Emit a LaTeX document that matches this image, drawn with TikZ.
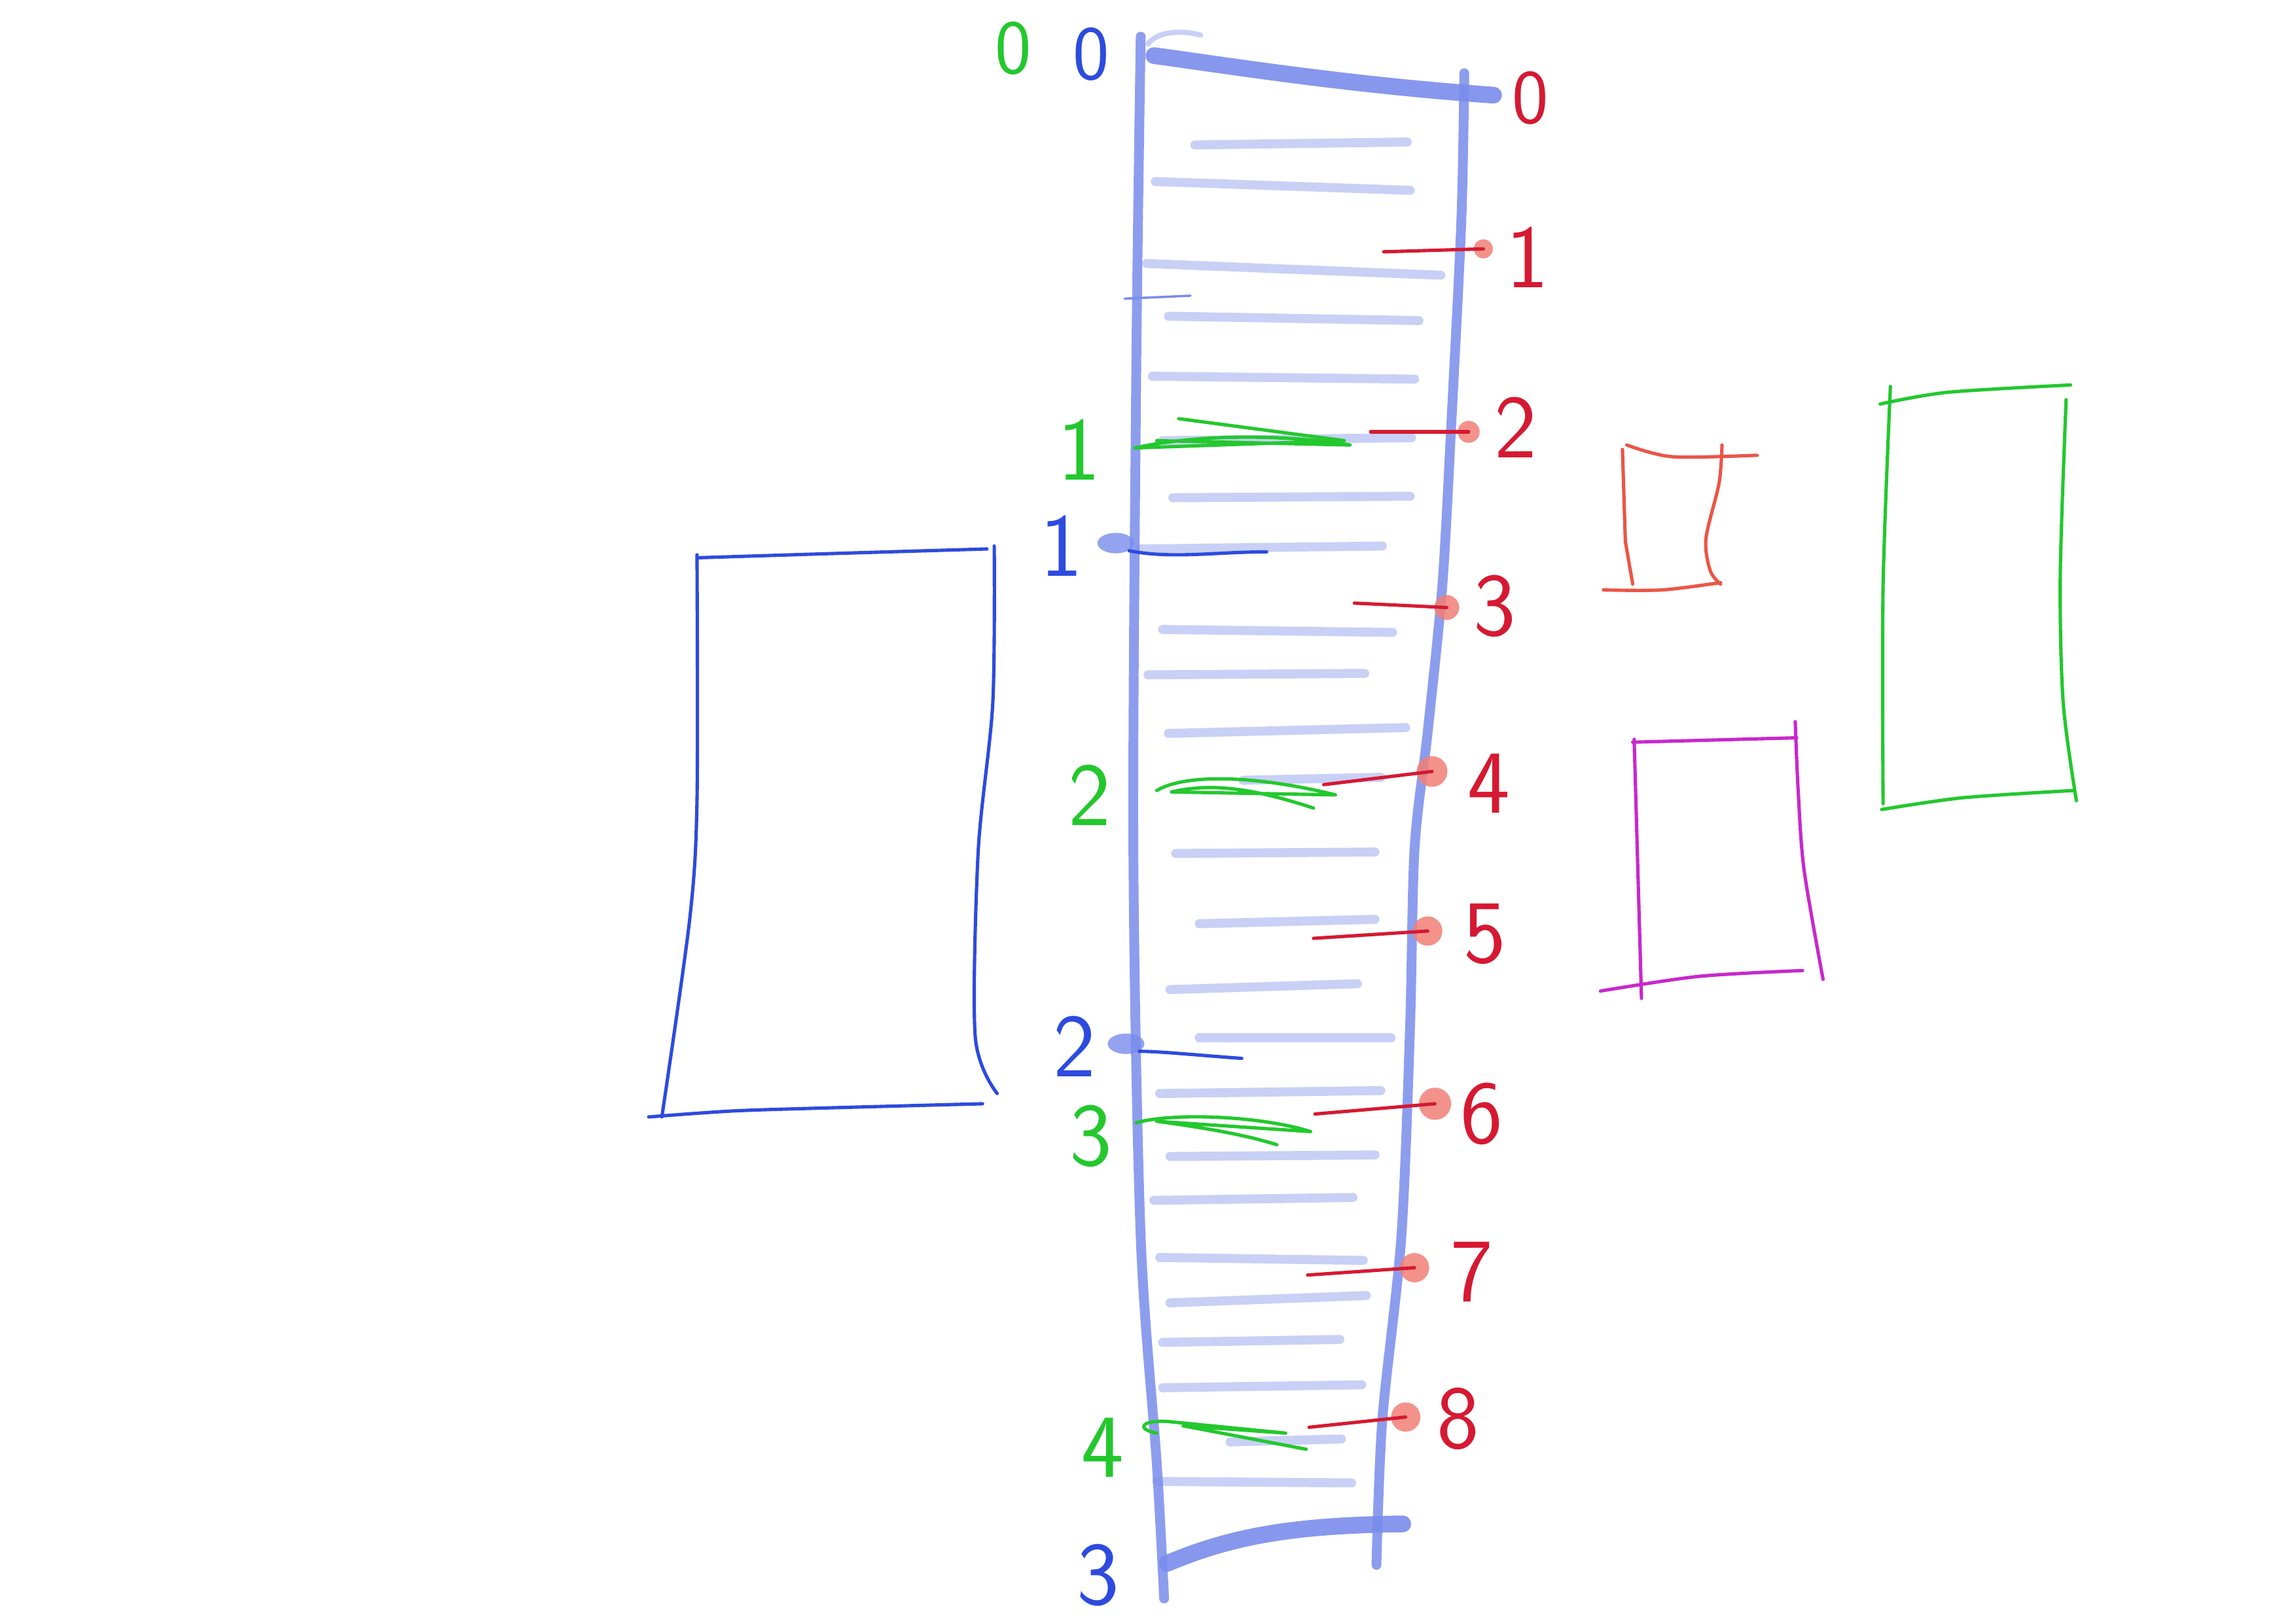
\documentclass[tikz,border=0pt]{standalone}
\usetikzlibrary{positioning, shapes.geometric}

\definecolor{railblue}{RGB}{122,140,236}
\definecolor{rungblue}{RGB}{200,208,246}
\definecolor{inkblue}{RGB}{45,75,222}
\definecolor{inkgreen}{RGB}{35,200,45}
\definecolor{inkred}{RGB}{214,25,50}
\definecolor{blobred}{RGB}{242,128,118}
\definecolor{inkmagenta}{RGB}{200,40,205}
\definecolor{rectred}{RGB}{235,85,70}

\begin{document}
\begin{tikzpicture}[x=0.02cm, y=-0.02cm,
    rail/.style={draw=railblue, line width=3.8pt, line cap=round, opacity=0.85},
    bar/.style={draw=railblue, line width=6.5pt, line cap=round, opacity=0.9},
    rung/.style={draw=rungblue, line width=3.5pt, line cap=round},
    ink/.style={line width=1.3pt, line cap=round, line join=round},
    digit/.style={font=\sffamily\fontsize{35}{40}\selectfont, inner sep=0pt},
    zero/.style={font=\sffamily\fontsize{30}{34}\selectfont, inner sep=0pt},
    blob/.style={circle, fill=blobred, inner sep=0pt, fill opacity=0.85},
    bblob/.style={ellipse, fill=railblue, inner sep=0pt, fill opacity=0.8, minimum width=0.5cm, minimum height=0.28cm}]

    % page
    \fill[white] (0,0) rectangle (1568,1109);
    \useasboundingbox (0,0) rectangle (1568,1109);

    % rungs of the ladder
    \foreach \ax/\ay/\bx/\by in {816/99/961/97, 789/124/963/130, 783/180/984/188, 798/216/969/219,
        787/257/966/259, 794/301/964/299, 801/340/963/339, 778/375/944/373, 794/430/951/432,
        784/461/932/460, 798/501/960/497, 849/533/943/531, 803/583/939/582, 819/631/939/628,
        799/676/927/672, 819/709/950/709, 792/747/943/745, 799/790/939/789, 788/820/924/818,
        792/859/931/861, 799/890/933/885, 794/917/915/915, 794/948/930/946, 840/985/916/983,
        790/1012/923/1013}
        \draw[rung] (\ax,\ay) -- (\bx,\by);
    \draw[rung, line width=2pt] (784,30) .. controls (790,22) and (805,20) .. (820,24);

    % rails and end bars
    \draw[rail] plot[smooth] coordinates {(779,25) (776,250) (774,580) (779,845) (790,1000) (795,1092)};
    \draw[rail] plot[smooth] coordinates {(1000,50) (998,150) (991,292) (985,400) (975,500) (966,580) (963,700) (957,845) (944,970) (940,1069)};
    \draw[bar] (788,38) .. controls (840,45) and (920,58) .. (1020,65);
    \draw[bar] (797,1068) .. controls (840,1050) and (880,1042) .. (958,1041);
    \draw[ink, railblue, line width=0.9pt] (768,204) -- (813,202);

    % red marks on the right
    \node[zero, text=inkred] (r0) at (1045,67) {0};
    \foreach \n/\lx/\ly/\dx/\dy/\ds/\tx/\ty in {
        1/945/172/1013/170/0.26/1043/176,
        2/936/295/1003/295/0.30/1035/292,
        3/925/412/988/415/0.34/1021/414,
        4/904/536/978/527/0.42/1017/535,
        5/897/641/975/636/0.40/1014/638,
        6/898/761/980/754/0.44/1012/761,
        7/893/871/966/866/0.40/1005/869,
        8/894/975/960/968/0.40/996/969}
    {
        \coordinate (l\n) at (\lx,\ly);
        \node[blob, minimum size=\ds cm] (d\n) at (\dx,\dy) {};
        \draw[ink, inkred] (l\n) -- (d\n.center);
        \node[digit, text=inkred] (r\n) at (\tx,\ty) {\n};
    }

    % green marks on the left
    \node[zero, text=inkgreen] (g0) at (692,33) {0};
    \node[digit, text=inkgreen] (g1) at (737,307) {1};
    \node[digit, text=inkgreen] (g2) at (744,543) {2};
    \node[digit, text=inkgreen] (g3) at (745,776) {3};
    \node[digit, text=inkgreen] (g4) at (753,989) {4};
    \draw[ink, inkgreen] (805,286) -- (918,301) -- (775,306) .. controls (820,296) and (880,297) .. (922,304) -- (790,301);
    \draw[ink, inkgreen] (790,540) .. controls (810,528) and (860,530) .. (912,543) -- (800,541) .. controls (830,534) and (860,540) .. (897,552);
    \draw[ink, inkgreen] (776,767) .. controls (800,760) and (860,762) .. (895,773) -- (790,766) .. controls (820,770) and (850,775) .. (872,782);
    \draw[ink, inkgreen] (790,979) .. controls (775,976) and (780,970) .. (797,971) -- (878,979) -- (808,974) -- (892,990);

    % blue marks on the left
    \node[zero, text=inkblue] (b0) at (745,37) {0};
    \node[digit, text=inkblue] (b1) at (725,373) {1};
    \node[digit, text=inkblue] (b2) at (734,715) {2};
    \node[digit, text=inkblue] (b3) at (750,1076) {3};
    \node[bblob] (p1) at (762,371) {};
    \node[bblob] (p2) at (769,713) {};
    \coordinate (q1) at (865,377);
    \coordinate (q2) at (848,723);
    \draw[ink, inkblue] (p1.south east) .. controls (800,382) and (830,377) .. (q1);
    \draw[ink, inkblue] (p2.south east) .. controls (790,718) and (820,721) .. (q2);

    % blue box
    \draw[ink, inkblue] plot[smooth] coordinates {(476,379) (476,547) (471,628) (452,763)};
    \draw[ink, inkblue] plot[smooth] coordinates {(477,381) (573,378) (674,375)};
    \draw[ink, inkblue] plot[smooth] coordinates {(679,373) (678,480) (668,582) (666,708) (681,747)};
    \draw[ink, inkblue] plot[smooth] coordinates {(443,763) (499,759) (559,757) (671,754)};

    % red box
    \draw[ink, rectred] plot[smooth] coordinates {(1111,304) (1142,312) (1200,311)};
    \draw[ink, rectred] (1108,307) -- (1110,370) -- (1115,399);
    \draw[ink, rectred] plot[smooth] coordinates {(1176,304) (1174,330) (1165,368) (1168,390) (1175,399)};
    \draw[ink, rectred] plot[smooth] coordinates {(1095,403) (1135,403) (1175,398)};

    % magenta box
    \draw[ink, inkmagenta] (1115,507) -- (1227,504);
    \draw[ink, inkmagenta] (1116,505) -- (1121,682);
    \draw[ink, inkmagenta] plot[smooth] coordinates {(1226,493) (1228,540) (1232,594) (1245,669)};
    \draw[ink, inkmagenta] plot[smooth] coordinates {(1093,677) (1160,667) (1231,663)};

    % green box
    \draw[ink, inkgreen] plot[smooth] coordinates {(1284,276) (1330,268) (1414,263)};
    \draw[ink, inkgreen] plot[smooth] coordinates {(1291,264) (1286,400) (1286,549)};
    \draw[ink, inkgreen] plot[smooth] coordinates {(1411,273) (1407,393) (1409,480) (1418,547)};
    \draw[ink, inkgreen] plot[smooth] coordinates {(1285,553) (1340,545) (1416,540)};
\end{tikzpicture}
\end{document}
